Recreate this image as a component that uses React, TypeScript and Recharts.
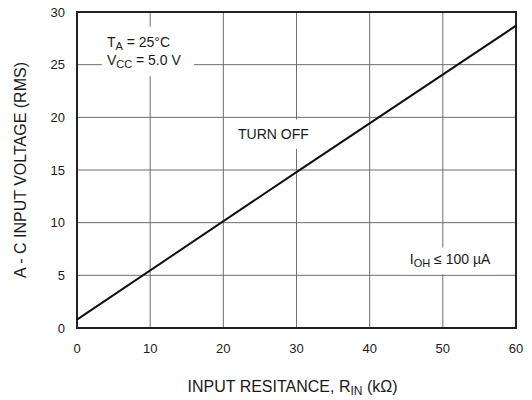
import {
  LineChart,
  Line,
  XAxis,
  YAxis,
  CartesianGrid,
  ReferenceArea,
  Label,
} from 'recharts';

// input resistance (kΩ) vs. a-c input voltage at turn off (V RMS)
const resistance = [0, 30, 60];
const voltage = [0.8, 14.8, 28.7];

const xTicks = [0, 10, 20, 30, 40, 50, 60];
const yTicks = [0, 5, 10, 15, 20, 25, 30];

const data = resistance.map((r, i) => ({ r, v: voltage[i] }));

const FONT = 'Liberation Sans, Arial, Helvetica, sans-serif';
const INK = '#1a1a1a';

const noteStyle = { fontFamily: FONT, fontSize: 14, fill: INK };

const Conditions = ({ viewBox }: any) => {
  const { x, y } = viewBox;
  return (
    <text {...noteStyle}>
      <tspan x={x + 5} y={y + 20}>T</tspan>
      <tspan dy={3} fontSize={11}>A</tspan>
      <tspan dy={-3}> = 25°C</tspan>
      <tspan x={x + 5} y={y + 38}>V</tspan>
      <tspan dy={3} fontSize={11}>CC</tspan>
      <tspan dy={-3}> = 5.0 V</tspan>
    </text>
  );
};

const TurnOff = ({ viewBox }: any) => {
  const { x, y, height } = viewBox;
  return (
    <text {...noteStyle} x={x + 3} y={y + height / 2 + 5}>
      TURN OFF
    </text>
  );
};

const Current = ({ viewBox }: any) => {
  const { x, y, height } = viewBox;
  return (
    <text {...noteStyle}>
      <tspan x={x + 5} y={y + height / 2 + 3}>I</tspan>
      <tspan dy={3} fontSize={11}>OH</tspan>
      <tspan dy={-3}> ≤ 100 µA</tspan>
    </text>
  );
};

export default function App() {
  return (
    <div style={{ position: 'absolute', left: 0, top: 0, background: '#fff' }}>
      <LineChart
        width={532}
        height={400}
        data={data}
        margin={{ top: 12, right: 16, bottom: 0, left: 0 }}
      >
        <CartesianGrid stroke="#6e6e6e" strokeWidth={1} />
        <XAxis
          dataKey="r"
          type="number"
          domain={[0, 60]}
          ticks={xTicks}
          tickLine={false}
          axisLine={false}
          tickSize={0}
          tickMargin={16}
          tick={{ fontFamily: FONT, fontSize: 13, fill: INK }}
          height={72}
        >
          <Label
            content={({ viewBox }: any) => (
              <text
                x={viewBox.x + viewBox.width / 2 - 4}
                y={viewBox.y + 64}
                textAnchor="middle"
                fontFamily={FONT}
                fontSize={16}
                fill={INK}
              >
                INPUT RESITANCE, R
                <tspan dy={3} fontSize={12}>IN</tspan>
                <tspan dy={-3}> (kΩ)</tspan>
              </text>
            )}
          />
        </XAxis>
        <YAxis
          type="number"
          domain={[0, 30]}
          ticks={yTicks}
          tickLine={false}
          axisLine={false}
          tickSize={0}
          tickMargin={12}
          width={77}
          tick={{ fontFamily: FONT, fontSize: 13, fill: INK }}
        >
          <Label
            content={({ viewBox }: any) => {
              const cx = viewBox.x + 20;
              const cy = viewBox.y + viewBox.height / 2;
              return (
                <text
                  x={cx}
                  y={cy}
                  transform={`rotate(-90 ${cx} ${cy})`}
                  textAnchor="middle"
                  dominantBaseline="central"
                  fontFamily={FONT}
                  fontSize={16}
                  fill={INK}
                >
                  A - C INPUT VOLTAGE (RMS)
                </text>
              );
            }}
          />
        </YAxis>
        <ReferenceArea
          x1={3.4}
          x2={16}
          y1={23.9}
          y2={28.6}
          fill="#fff"
          fillOpacity={1}
          stroke="none"
          label={<Conditions />}
        />
        <ReferenceArea
          x1={21.6}
          x2={31.8}
          y1={17}
          y2={19.8}
          fill="#fff"
          fillOpacity={1}
          stroke="none"
          label={<TurnOff />}
        />
        <ReferenceArea
          x1={44.8}
          x2={57.1}
          y1={5.1}
          y2={7.65}
          fill="#fff"
          fillOpacity={1}
          stroke="none"
          label={<Current />}
        />
        <ReferenceArea
          x1={0}
          x2={60}
          y1={0}
          y2={30}
          fill="none"
          stroke="#222"
          strokeWidth={2}
        />
        <Line
          dataKey="v"
          type="linear"
          stroke="#111"
          strokeWidth={2}
          dot={false}
          isAnimationActive={false}
        />
      </LineChart>
    </div>
  );
}
